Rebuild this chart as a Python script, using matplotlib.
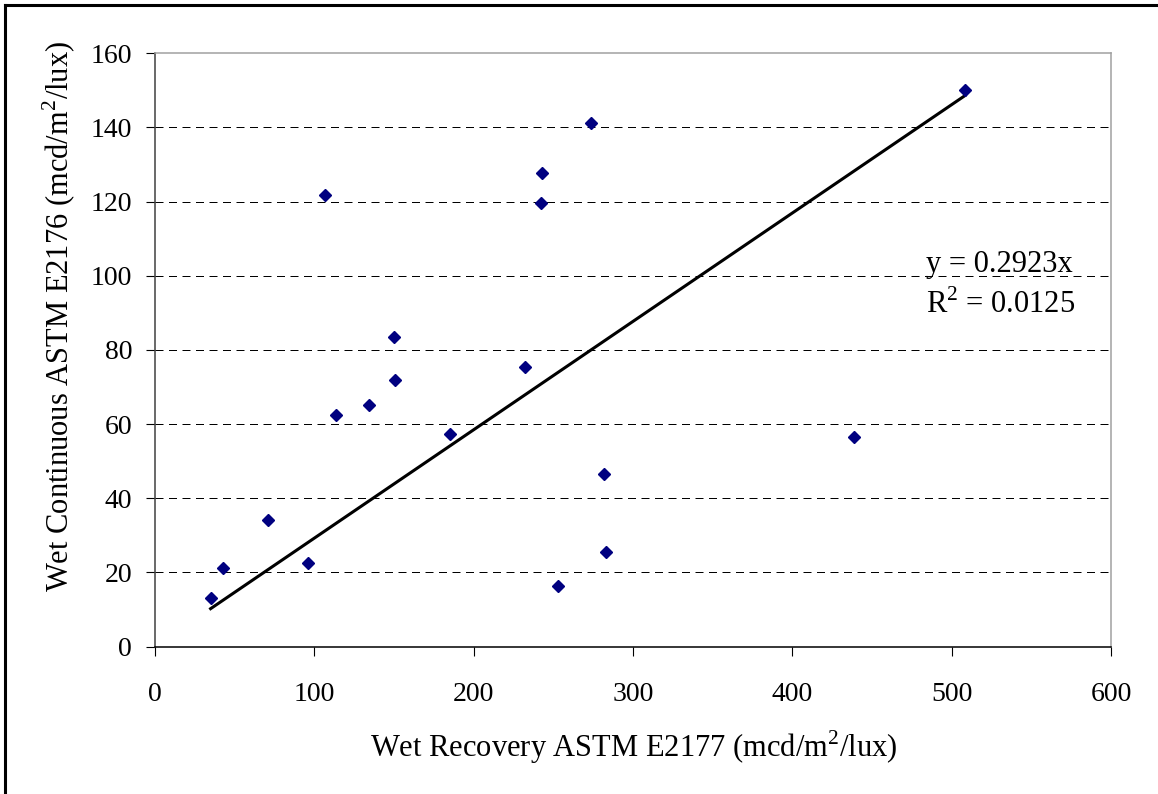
import matplotlib
matplotlib.use("Agg")
import matplotlib.pyplot as plt
from matplotlib.lines import Line2D

plt.rcParams['font.family'] = ['Liberation Serif', 'DejaVu Serif']
plt.rcParams['mathtext.fontset'] = 'custom'
plt.rcParams['mathtext.rm'] = 'Liberation Serif'

# data
wet_recovery = [34.9, 42.8, 71.0, 96.1, 107.0, 113.5, 134.0, 149.8, 150.5, 184.9,
                232.4, 242.4, 243.1, 252.7, 273.4, 281.7, 283.2, 438.7, 508.5]
wet_continuous = [13.0, 21.2, 34.1, 22.5, 121.9, 62.4, 65.1, 83.6, 71.9, 57.4,
                  75.3, 119.5, 127.8, 16.2, 141.2, 46.6, 25.6, 56.4, 150.2]
slope = 0.2923
r_squared = 0.0125
x_ticks = [0, 100, 200, 300, 400, 500, 600]
y_ticks = [0, 20, 40, 60, 80, 100, 120, 140, 160]

fig = plt.figure(figsize=(11.58, 7.94), dpi=100)
ax = fig.add_axes([155/1158, 1-646.5/794, (1111-155)/1158, (646.5-53.3)/794])

# dashed horizontal gridlines (inner ticks only)
for yv in y_ticks[1:-1]:
    ax.axhline(yv, color='black', lw=0.72, ls=(0, (8, 5.5)), zorder=1)

# trendline through origin
x0, x1 = min(wet_recovery), max(wet_recovery)
ax.plot([x0, x1], [slope*x0, slope*x1], color='black', lw=2.2, zorder=2)

ax.plot(wet_recovery, wet_continuous, ls='none', marker='D', ms=6.5,
        color='#000080', mec='#000080', zorder=3)

ax.set_xlim(0, 600)
ax.set_ylim(0, 160)
ax.set_xticks(x_ticks)
ax.set_yticks(y_ticks)
ax.tick_params(axis='x', direction='out', length=6.5, width=0.8, pad=19, labelsize=20)
ax.tick_params(axis='y', direction='out', length=6.5, width=0.8, pad=10, labelsize=20)

ax.spines['left'].set_color('#404040')
ax.spines['bottom'].set_color('black')
ax.spines['top'].set_color('#a0a0a0')
ax.spines['right'].set_color('#a0a0a0')
for s in ax.spines.values():
    s.set_linewidth(1.1)

ax.text(0.807, 0.632, 'y = %.4fx' % slope, transform=ax.transAxes,
        fontsize=22, va='baseline', ha='left')
ax.text(0.807, 0.562, r'R$^\mathregular{2}$ = %.4f' % r_squared, transform=ax.transAxes,
        fontsize=22, va='baseline', ha='left')

fig.text(633.5/1158, 1-757/794, r'Wet Recovery ASTM E2177 (mcd/m$^\mathregular{2}$/lux)',
         fontsize=22, ha='center', va='baseline')
fig.text(69/1158, 1-316/794, r'Wet Continuous ASTM E2176 (mcd/m$^\mathregular{2}$/lux)',
         fontsize=22, ha='center', va='baseline', rotation=90, rotation_mode='anchor')

# outer chart frame (only top and left visible in the reference)
fig.add_artist(Line2D([4.5/1158, 4.5/1158], [0, 1-4.5/794], color='black', lw=2.2,
                      transform=fig.transFigure))
fig.add_artist(Line2D([4.5/1158, 1], [1-4.5/794, 1-4.5/794], color='black', lw=2.2,
                      transform=fig.transFigure))

fig.savefig('out.png', dpi=100)
